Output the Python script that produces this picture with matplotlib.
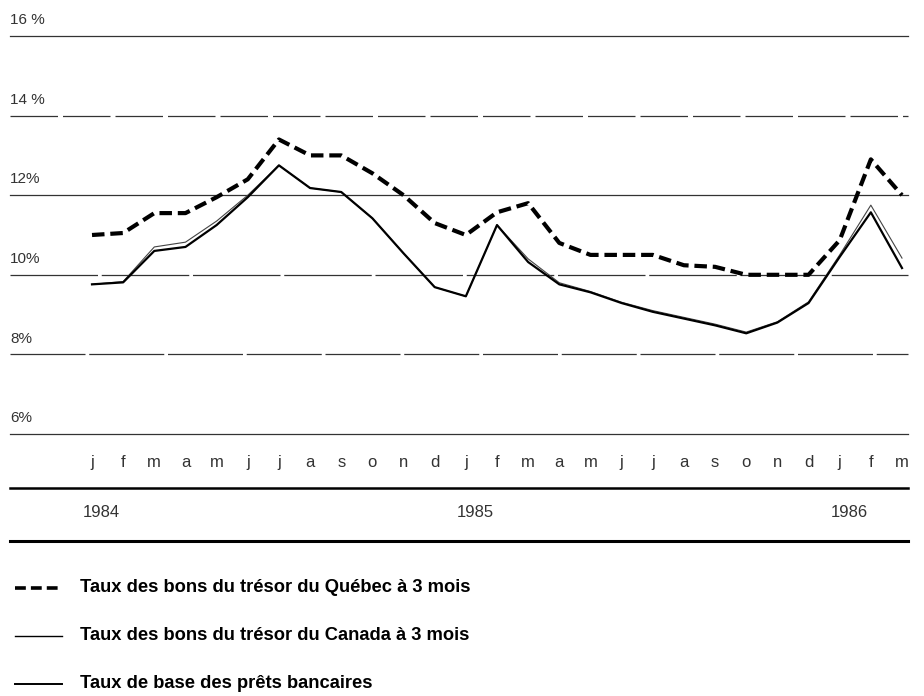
import numpy as np
import matplotlib.pyplot as plt
from matplotlib.lines import Line2D

plt.rcParams['font.family'] = ['Liberation Sans', 'DejaVu Sans']

# mois de janvier 1984 a mars 1986
mois = ["j", "f", "m", "a", "m", "j", "j", "a", "s", "o", "n", "d",
        "j", "f", "m", "a", "m", "j", "j", "a", "s", "o", "n", "d",
        "j", "f", "m"]
annees = ["1984", "1985", "1986"]
pos_annees = [0, 12, 24]

quebec = [11.0, 11.05, 11.55, 11.55, 11.95, 12.4, 13.4, 13.0, 13.0, 12.55, 12.0, 11.3,
          11.0, 11.57, 11.8, 10.8, 10.5, 10.5, 10.5, 10.24, 10.2, 10.0, 10.0, 10.0,
          10.87, 12.9, 12.0]
canada = [9.76, 9.83, 10.7, 10.82, 11.35, 12.0, 12.75, 12.18, 12.08, 11.42, 10.54, 9.69,
          9.46, 11.25, 10.4, 9.8, 9.58, 9.31, 9.1, 8.93, 8.76, 8.56, 8.82, 9.32,
          10.5, 11.75, 10.42]
base = [9.76, 9.81, 10.6, 10.7, 11.25, 11.95, 12.75, 12.18, 12.08, 11.42, 10.54, 9.69,
        9.46, 11.25, 10.32, 9.76, 9.56, 9.29, 9.07, 8.9, 8.73, 8.53, 8.8, 9.29,
        10.45, 11.57, 10.17]

legende = ["Taux des bons du trésor du Québec à 3 mois",
           "Taux des bons du trésor du Canada à 3 mois",
           "Taux de base des prêts bancaires"]

W, H = 924, 696
fig = plt.figure(figsize=(W / 100, H / 100), dpi=100)

def fx(px):
    return px / W

def fy(py):
    return 1 - py / H

ax = fig.add_axes([fx(10), fy(434), fx(908) - fx(10), fy(36) - fy(434)])
x = np.arange(len(mois))
ax.set_xlim(-82 / 31.15, 26 + 6 / 31.15)
ax.set_ylim(6, 16)
for s in ax.spines.values():
    s.set_visible(False)
ax.set_xticks([])
ax.set_yticks([])

# lignes de grille (trait long avec quelques coupures, comme sur l'original)
for v, style in [(16, '-'), (14, (0, (38, 4))), (12, '-'), (10, (0, (70, 3))),
                 (8, (0, (60, 3))), (6, '-')]:
    ax.axhline(v, color='#333333', lw=0.9, ls=style, zorder=1, clip_on=False)
    lab = f"{v} %" if v in (16, 14) else f"{v}%"
    ax.text(-82 / 31.15, v + 0.22, lab, fontsize=11, color='#333333',
            ha='left', va='bottom')

ax.plot(x, quebec, color='black', lw=3, ls=(0, (3, 1.4)), zorder=4)
ax.plot(x, canada, color='#444444', lw=0.8, zorder=3)
ax.plot(x, base, color='black', lw=1.6, zorder=3)

# mois
for i, m in enumerate(mois):
    ax.text(i, 6 - 28 * 10 / 398, m, fontsize=12, color='#333333',
            ha='center', va='center', clip_on=False)
for p, a in zip(pos_annees, annees):
    ax.text(p + 0.3, 6 - 78 * 10 / 398, a, fontsize=12, color='#333333',
            ha='center', va='center', clip_on=False)

fig.add_artist(Line2D([fx(10), fx(908)], [fy(488), fy(488)], color='black', lw=1.8))
fig.add_artist(Line2D([fx(10), fx(908)], [fy(541), fy(541)], color='black', lw=2.2))

# legende
styles = [dict(lw=2.6, ls=(0, (3, 1.4))), dict(lw=1.0, ls='-'), dict(lw=1.4, ls='-')]
for k, (txt, st) in enumerate(zip(legende, styles)):
    yy = fy(588 + 48 * k)
    fig.add_artist(Line2D([fx(15), fx(62)], [yy, yy], color='black', **st))
    fig.text(fx(80), yy, txt, fontsize=13.2, fontweight='bold', ha='left',
             va='center', color='black')

fig.savefig("out.png", dpi=100)
